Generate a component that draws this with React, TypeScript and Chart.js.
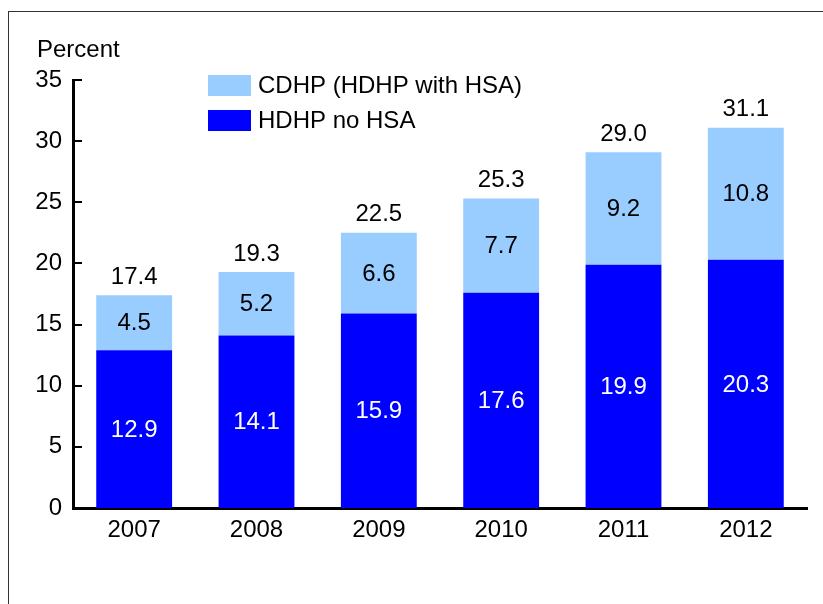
import React, { useEffect, useRef } from "react";
import { Chart, registerables } from "chart.js";

Chart.register(...registerables);

const years = ["2007", "2008", "2009", "2010", "2011", "2012"];
const hdhpNoHsa = [12.9, 14.1, 15.9, 17.6, 19.9, 20.3];
const cdhpWithHsa = [4.5, 5.2, 6.6, 7.7, 9.2, 10.8];
const totals = ["17.4", "19.3", "22.5", "25.3", "29.0", "31.1"];
const yTicks = [0, 5, 10, 15, 20, 25, 30, 35];

const FONT = "'Liberation Sans', Arial, sans-serif";
const FS = 24;

const decorPlugin = {
  id: "decor",
  afterDatasetsDraw(chart: any) {
    const ctx = chart.ctx;
    const area = chart.chartArea;
    const y = chart.scales.y;
    ctx.save();
    // inward tick marks
    ctx.strokeStyle = "#000";
    ctx.lineWidth = 2;
    yTicks.forEach((v) => {
      const py = Math.round(y.getPixelForValue(v));
      if (v === 0) return;
      ctx.beginPath();
      ctx.moveTo(area.left, py);
      ctx.lineTo(area.left + 9, py);
      ctx.stroke();
    });
    // value labels
    ctx.font = `${FS}px ${FONT}`;
    ctx.textAlign = "center";
    ctx.textBaseline = "middle";
    const m0 = chart.getDatasetMeta(0);
    const m1 = chart.getDatasetMeta(1);
    m0.data.forEach((bar: any, i: number) => {
      const { x, y: top, base } = bar.getProps(["x", "y", "base"], true);
      ctx.fillStyle = "#ffffff";
      ctx.fillText(hdhpNoHsa[i].toFixed(1), x, (top + base) / 2 + 1);
    });
    m1.data.forEach((bar: any, i: number) => {
      const { x, y: top, base } = bar.getProps(["x", "y", "base"], true);
      ctx.fillStyle = "#000000";
      ctx.fillText(cdhpWithHsa[i].toFixed(1), x, (top + base) / 2 + 1);
      ctx.fillText(totals[i], x, top - 18);
    });
    // axis title
    ctx.textAlign = "left";
    ctx.fillText("Percent", area.left - 36, area.top - 30);
    // legend
    const items = [
      { label: "CDHP (HDHP with HSA)", color: "#99CCFF" },
      { label: "HDHP no HSA", color: "#0000FF" },
    ];
    items.forEach((it, k) => {
      const bx = area.left + 135;
      const by = area.top - 5 + k * 35;
      ctx.fillStyle = it.color;
      ctx.fillRect(bx, by, 43, 21);
      ctx.fillStyle = "#000";
      ctx.fillText(it.label, bx + 50, by + 11);
    });
    ctx.restore();
  },
};

export default function App() {
  const ref = useRef<HTMLCanvasElement | null>(null);
  useEffect(() => {
    if (!ref.current) return;
    const chart = new Chart(ref.current, {
      type: "bar",
      data: {
        labels: years,
        datasets: [
          {
            label: "HDHP no HSA",
            data: hdhpNoHsa,
            backgroundColor: "#0000FF",
            borderWidth: 0,
            categoryPercentage: 0.62,
            barPercentage: 1,
          },
          {
            label: "CDHP (HDHP with HSA)",
            data: cdhpWithHsa,
            backgroundColor: "#99CCFF",
            borderWidth: 0,
            categoryPercentage: 0.62,
            barPercentage: 1,
          },
        ],
      },
      options: {
        animation: false,
        responsive: false,
        maintainAspectRatio: false,
        layout: { padding: { top: 72, right: 8, left: 0, bottom: 0 } },
        plugins: {
          legend: { display: false },
          tooltip: { enabled: false },
          title: { display: false },
        },
        scales: {
          x: {
            stacked: true,
            grid: { display: false, drawTicks: false },
            border: { display: true, color: "#000", width: 3 },
            ticks: {
              color: "#000",
              font: { family: FONT, size: FS },
              padding: 8,
            },
            afterFit(scale: any) {
              scale.height = 88;
            },
          },
          y: {
            stacked: true,
            min: 0,
            max: 35,
            grid: { display: false, drawTicks: false },
            border: { display: true, color: "#000", width: 3 },
            ticks: {
              stepSize: 5,
              color: "#000",
              font: { family: FONT, size: FS },
              padding: 11,
            },
            afterFit(scale: any) {
              scale.width = 65;
            },
          },
        },
      },
      plugins: [decorPlugin],
    });
    return () => chart.destroy();
  }, []);

  return (
    <div style={{ position: "relative", width: 807, height: 588 }}>
      <div
        style={{
          position: "fixed",
          left: 8,
          top: 11,
          width: 2000,
          height: 2000,
          borderLeft: "1px solid #333",
          borderTop: "1px solid #333",
        }}
      />
      <canvas ref={ref} width={807} height={588} style={{ position: "absolute", left: 0, top: 0 }} />
    </div>
  );
}
